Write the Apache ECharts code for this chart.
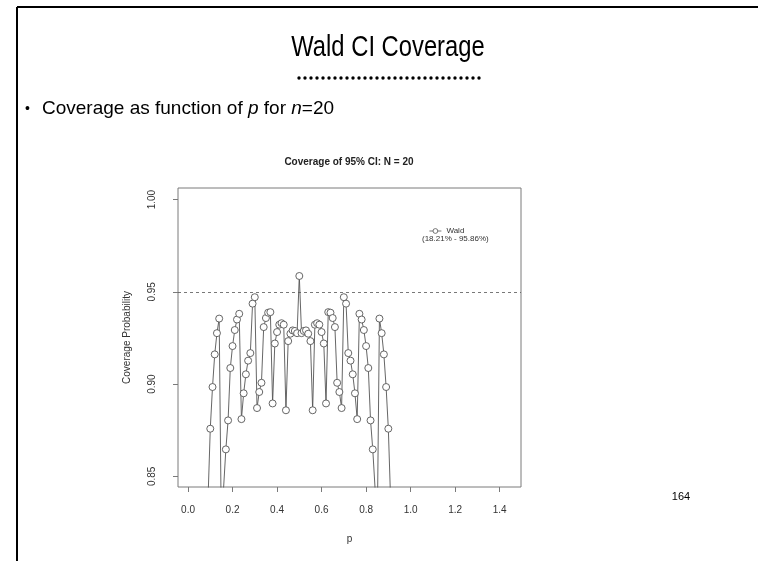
<!DOCTYPE html>
<html>
<head>
<meta charset="utf-8">
<script src="https://cdn.jsdelivr.net/npm/echarts@6/dist/echarts.min.js"></script>
<style>
  html, body { margin: 0; padding: 0; background: #fff; }
  #chart { width: 758px; height: 561px; }
</style>
</head>
<body>
<div id="chart"></div>
<script>
// p grid used for the coverage curve
var pValues = [
  0.01, 0.02, 0.03, 0.04, 0.05, 0.06, 0.07, 0.08, 0.09, 0.10,
  0.11, 0.12, 0.13, 0.14, 0.15, 0.16, 0.17, 0.18, 0.19, 0.20,
  0.21, 0.22, 0.23, 0.24, 0.25, 0.26, 0.27, 0.28, 0.29, 0.30,
  0.31, 0.32, 0.33, 0.34, 0.35, 0.36, 0.37, 0.38, 0.39, 0.40,
  0.41, 0.42, 0.43, 0.44, 0.45, 0.46, 0.47, 0.48, 0.49, 0.50,
  0.51, 0.52, 0.53, 0.54, 0.55, 0.56, 0.57, 0.58, 0.59, 0.60,
  0.61, 0.62, 0.63, 0.64, 0.65, 0.66, 0.67, 0.68, 0.69, 0.70,
  0.71, 0.72, 0.73, 0.74, 0.75, 0.76, 0.77, 0.78, 0.79, 0.80,
  0.81, 0.82, 0.83, 0.84, 0.85, 0.86, 0.87, 0.88, 0.89, 0.90,
  0.91, 0.92, 0.93, 0.94, 0.95, 0.96, 0.97, 0.98, 0.99
];

// Wald coverage (low ends fall below the visible range)
var coverage = [
  0.1821, 0.3318, 0.4559, 0.5570, 0.6389, 0.7040, 0.7620, 0.8050, 0.8380, 0.8758,
  0.8984, 0.9161, 0.9276, 0.9355, 0.8185, 0.8441, 0.8646, 0.8803, 0.9087, 0.9206,
  0.9293, 0.9350, 0.9381, 0.8810, 0.8950, 0.9053, 0.9127, 0.9168, 0.9436, 0.9471,
  0.8870, 0.8957, 0.9007, 0.9309, 0.9358, 0.9387, 0.9390, 0.8895, 0.9220, 0.9282,
  0.9322, 0.9330, 0.9322, 0.8858, 0.9233, 0.9273, 0.9291, 0.9288, 0.9276, 0.9586,
  0.9276, 0.9288, 0.9291, 0.9273, 0.9233, 0.8858, 0.9322, 0.9330, 0.9322, 0.9282,
  0.9220, 0.8895, 0.9390, 0.9387, 0.9358, 0.9309, 0.9007, 0.8957, 0.8870, 0.9471,
  0.9436, 0.9168, 0.9127, 0.9053, 0.8950, 0.8810, 0.9381, 0.9350, 0.9293, 0.9206,
  0.9087, 0.8803, 0.8646, 0.8441, 0.8185, 0.9355, 0.9276, 0.9161, 0.8984, 0.8758,
  0.8380, 0.8050, 0.7620, 0.7040, 0.6389, 0.5570, 0.4559, 0.3318, 0.1821
];

var xTicks = [0, 0.2, 0.4, 0.6, 0.8, 1.0, 1.2, 1.4];
var yTicks = [0.85, 0.90, 0.95, 1.00];
var nominal = 0.95;
var seriesName = "Wald";
var rangeText = "(18.21% - 95.86%)";

var chart = echarts.init(document.getElementById("chart"));
var font = '"Liberation Sans", Arial, sans-serif';

var points = pValues.map(function(p, i) {
  return [p, coverage[i]];
});

var option = {
  animation: false,
  textStyle: { fontFamily: font },
  grid: {
    left: 178,
    top: 188,
    width: 343,
    height: 299,
    show: true,
    borderColor: "#7a7a7a",
    borderWidth: 1
  },
  legend: {
    left: 424,
    top: 222,
    itemWidth: 12,
    itemHeight: 6,
    itemGap: 2,
    itemStyle: { borderWidth: 0.8 },
    lineStyle: { width: 0.8 },
    textStyle: { fontSize: 8, color: "#333" },
    data: [seriesName]
  },
  xAxis: {
    type: "value",
    min: -0.045,
    max: 1.496,
    splitLine: { show: false },
    axisLine: { show: false, onZero: false },
    axisTick: {
      show: true,
      length: 5,
      customValues: xTicks,
      lineStyle: { color: "#7a7a7a" }
    },
    axisLabel: {
      customValues: xTicks,
      margin: 18,
      fontSize: 10,
      color: "#333",
      formatter: function(v) {
        return v.toFixed(1);
      }
    },
    name: "p",
    nameLocation: "middle",
    nameGap: 47,
    nameTextStyle: { fontSize: 10, color: "#333" }
  },
  yAxis: {
    type: "value",
    min: 0.8442,
    max: 1.0063,
    splitLine: { show: false },
    axisLine: { show: false, onZero: false },
    axisTick: {
      show: true,
      length: 5,
      customValues: yTicks,
      lineStyle: { color: "#7a7a7a" }
    },
    axisLabel: {
      customValues: yTicks,
      rotate: 90,
      margin: 21,
      fontSize: 10,
      color: "#333",
      formatter: function(v) {
        return v.toFixed(2);
      }
    },
    name: "Coverage Probability",
    nameLocation: "middle",
    nameRotate: 90,
    nameGap: 46,
    nameTextStyle: { fontSize: 10, color: "#333" }
  },
  series: [
    {
      name: seriesName,
      type: "line",
      data: points,
      clip: true,
      symbol: "circle",
      symbolSize: 7,
      showSymbol: true,
      showAllSymbol: true,
      lineStyle: { color: "#555", width: 0.9 },
      itemStyle: { color: "#fff", borderColor: "#555", borderWidth: 0.9 },
      markLine: {
        silent: true,
        symbol: "none",
        label: { show: false },
        lineStyle: { color: "#555", type: [3, 3], width: 0.8 },
        data: [{ yAxis: nominal }]
      }
    }
  ],
  graphic: [
    // slide frame
    { type: "line", shape: { x1: 17, y1: 7, x2: 17, y2: 561 }, style: { stroke: "#000", lineWidth: 2 } },
    { type: "line", shape: { x1: 17, y1: 7, x2: 758, y2: 7 }, style: { stroke: "#000", lineWidth: 2 } },
    {
      type: "text", x: 388, y: 48, scaleX: 0.82,
      style: { text: "Wald CI Coverage", font: '29px "Liberation Sans", Arial, sans-serif', fill: "#000", align: "center", verticalAlign: "middle" }
    },
    {
      type: "line", shape: { x1: 299, y1: 78, x2: 483, y2: 78 },
      style: { stroke: "#000", lineWidth: 3.4, lineCap: "round", lineDash: [0, 6] }
    },
    {
      type: "text", x: 25, y: 109,
      style: { text: "\u2022", font: '14px "Liberation Sans", Arial, sans-serif', fill: "#000", verticalAlign: "middle" }
    },
    {
      type: "text", x: 42, y: 109,
      style: {
        text: "Coverage as function of {i|p} for {i|n}=20",
        font: '19px "Liberation Sans", Arial, sans-serif',
        fill: "#000",
        verticalAlign: "middle",
        rich: { i: { fontStyle: "italic", fontSize: 19, fontFamily: font } }
      }
    },
    {
      type: "text", x: 349, y: 162,
      style: { text: "Coverage of 95% CI: N = 20", font: 'bold 10px "Liberation Sans", Arial, sans-serif', fill: "#222", align: "center", verticalAlign: "middle" }
    },
    {
      type: "text", x: 422, y: 239,
      style: { text: rangeText, font: '8px "Liberation Sans", Arial, sans-serif', fill: "#333", verticalAlign: "middle" }
    },
    {
      type: "text", x: 681, y: 497,
      style: { text: "164", font: '11px "Liberation Sans", Arial, sans-serif', fill: "#000", align: "center", verticalAlign: "middle" }
    }
  ]
};

chart.setOption(option);
</script>
</body>
</html>
